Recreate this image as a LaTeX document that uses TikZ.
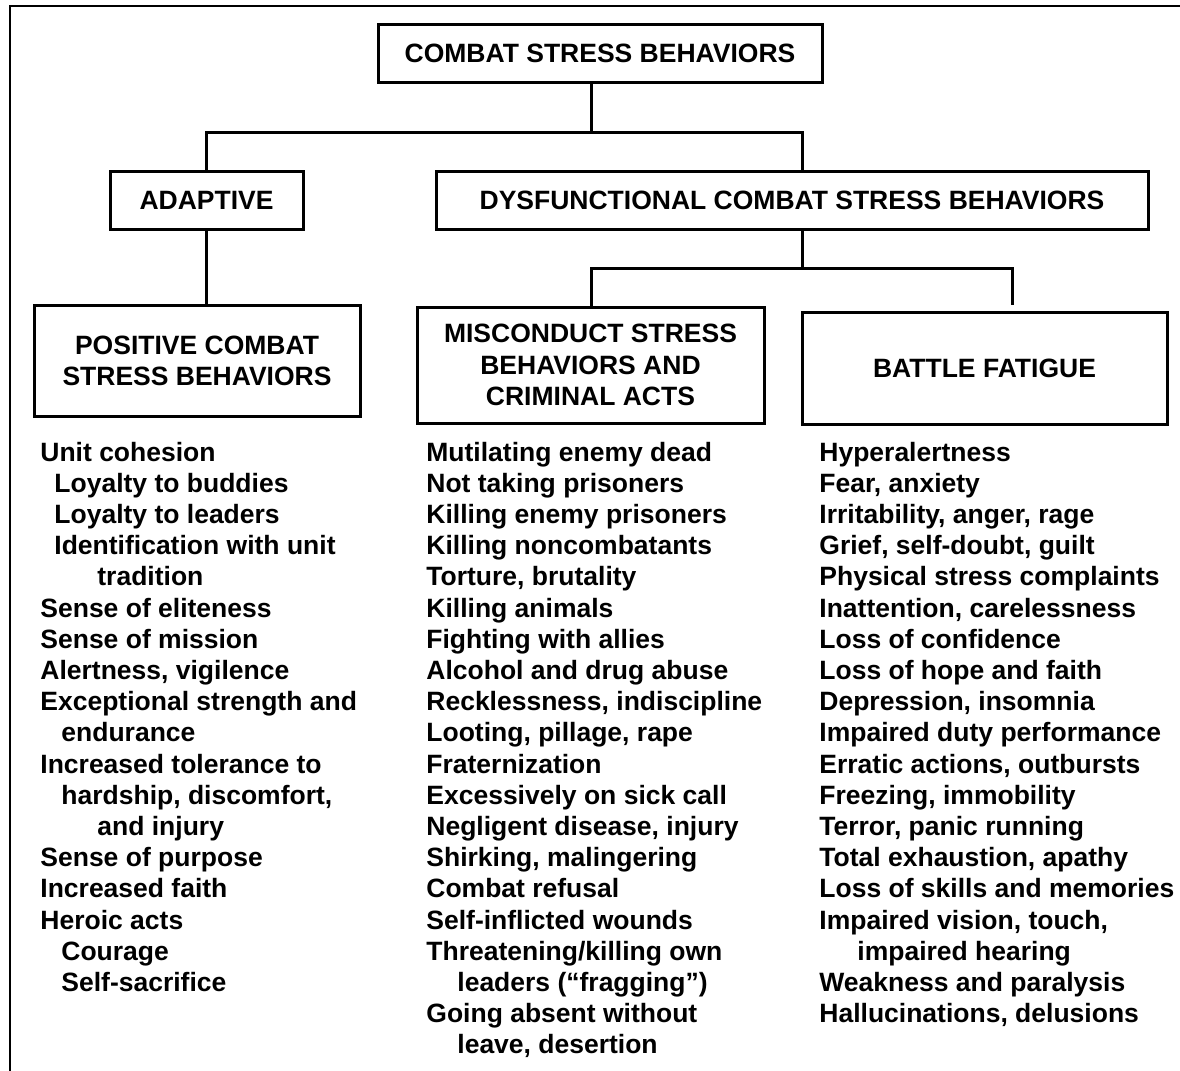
\documentclass[tikz,border=0pt]{standalone}
\usepackage{fontspec}
\setmainfont{Liberation Sans}
\newcommand{\lstfont}{\fontsize{13.25}{15.6}\selectfont\bfseries}
\newcommand{\lstline}[4]{\node[lst] (#1) at (#2,{461+31.2*#3}) {#4};}
\begin{document}
\begin{tikzpicture}[x=0.5pt,y=-0.5pt,
  box/.style={draw,line width=1.5pt,align=center,inner sep=0pt,font=\lstfont},
  conn/.style={line width=1.5pt,line join=miter},
  frame/.style={line width=1pt},
  lst/.style={anchor=base west,inner sep=0pt,font=\lstfont}]
\useasboundingbox[fill=white] (0,0) rectangle (1180,1071);
% outer frame (only top and left edges visible)
\draw[frame] (10,1071) -- (10,6) -- (1180,6);
% boxes
\node[box,minimum width=222pt,minimum height=29pt] (top) at (600,53) {COMBAT STRESS BEHAVIORS};
\node[box,minimum width=96.5pt,minimum height=29pt] (adaptive) at (206.5,200) {ADAPTIVE};
\node[box,minimum width=356pt,minimum height=29pt] (dys) at (792,200) {DYSFUNCTIONAL COMBAT STRESS BEHAVIORS};
\node[box,minimum width=163pt,minimum height=55.5pt] (positive) at (197,360.5) {POSITIVE COMBAT\\STRESS BEHAVIORS};
\node[box,minimum width=173.5pt,minimum height=58pt] (misc) at (590.5,365) {MISCONDUCT STRESS\\BEHAVIORS AND\\CRIMINAL ACTS};
\node[box,minimum width=182.5pt,minimum height=56pt] (battle) at (984.5,368) {BATTLE FATIGUE};
% junctions
\coordinate (j0) at (591,132);
\coordinate (ja) at (206,132);
\coordinate (jd) at (802,132);
\coordinate (jd2) at (802,268);
\coordinate (jm) at (591,268);
\coordinate (jb) at (1012,268);
\coordinate (jbend) at (1012,305);
% connectors
\draw[conn] (top.south -| j0) -- (j0);
\draw[conn] (adaptive.north -| ja) |- (jd) -- (dys.north -| jd);
\draw[conn] (adaptive.south -| ja) -- (positive.north -| ja);
\draw[conn] (dys.south -| jd2) -- (jd2);
\draw[conn] (misc.north -| jm) |- (jb) -- (jbend);
% column 1
\lstline{a0}{40}{0}{Unit cohesion}
\lstline{a1}{54}{1}{Loyalty to buddies}
\lstline{a2}{54}{2}{Loyalty to leaders}
\lstline{a3}{54}{3}{Identification with unit}
\lstline{a4}{97}{4}{tradition}
\lstline{a5}{40}{5}{Sense of eliteness}
\lstline{a6}{40}{6}{Sense of mission}
\lstline{a7}{40}{7}{Alertness, vigilence}
\lstline{a8}{40}{8}{Exceptional strength and}
\lstline{a9}{61}{9}{endurance}
\lstline{a10}{40}{10}{Increased tolerance to}
\lstline{a11}{61}{11}{hardship, discomfort,}
\lstline{a12}{97}{12}{and injury}
\lstline{a13}{40}{13}{Sense of purpose}
\lstline{a14}{40}{14}{Increased faith}
\lstline{a15}{40}{15}{Heroic acts}
\lstline{a16}{61}{16}{Courage}
\lstline{a17}{61}{17}{Self-sacrifice}
% column 2
\lstline{b0}{426}{0}{Mutilating enemy dead}
\lstline{b1}{426}{1}{Not taking prisoners}
\lstline{b2}{426}{2}{Killing enemy prisoners}
\lstline{b3}{426}{3}{Killing noncombatants}
\lstline{b4}{426}{4}{Torture, brutality}
\lstline{b5}{426}{5}{Killing animals}
\lstline{b6}{426}{6}{Fighting with allies}
\lstline{b7}{426}{7}{Alcohol and drug abuse}
\lstline{b8}{426}{8}{Recklessness, indiscipline}
\lstline{b9}{426}{9}{Looting, pillage, rape}
\lstline{b10}{426}{10}{Fraternization}
\lstline{b11}{426}{11}{Excessively on sick call}
\lstline{b12}{426}{12}{Negligent disease, injury}
\lstline{b13}{426}{13}{Shirking, malingering}
\lstline{b14}{426}{14}{Combat refusal}
\lstline{b15}{426}{15}{Self-inflicted wounds}
\lstline{b16}{426}{16}{Threatening/killing own}
\lstline{b17}{457}{17}{leaders (“fragging”)}
\lstline{b18}{426}{18}{Going absent without}
\lstline{b19}{457}{19}{leave, desertion}
% column 3
\lstline{c0}{819}{0}{Hyperalertness}
\lstline{c1}{819}{1}{Fear, anxiety}
\lstline{c2}{819}{2}{Irritability, anger, rage}
\lstline{c3}{819}{3}{Grief, self-doubt, guilt}
\lstline{c4}{819}{4}{Physical stress complaints}
\lstline{c5}{819}{5}{Inattention, carelessness}
\lstline{c6}{819}{6}{Loss of confidence}
\lstline{c7}{819}{7}{Loss of hope and faith}
\lstline{c8}{819}{8}{Depression, insomnia}
\lstline{c9}{819}{9}{Impaired duty performance}
\lstline{c10}{819}{10}{Erratic actions, outbursts}
\lstline{c11}{819}{11}{Freezing, immobility}
\lstline{c12}{819}{12}{Terror, panic running}
\lstline{c13}{819}{13}{Total exhaustion, apathy}
\lstline{c14}{819}{14}{Loss of skills and memories}
\lstline{c15}{819}{15}{Impaired vision, touch,}
\lstline{c16}{857}{16}{impaired hearing}
\lstline{c17}{819}{17}{Weakness and paralysis}
\lstline{c18}{819}{18}{Hallucinations, delusions}
\end{tikzpicture}
\end{document}
